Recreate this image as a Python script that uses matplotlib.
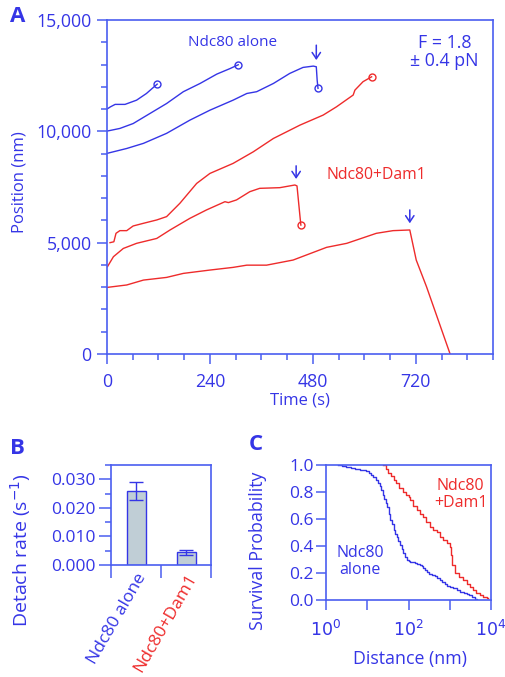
import matplotlib
matplotlib.use("Agg")
import matplotlib.pyplot as plt
from matplotlib.ticker import MultipleLocator, FixedLocator, FixedFormatter, FuncFormatter
import numpy as np

plt.rcParams['font.family'] = ['Open Sans', 'DejaVu Sans']

BLUE = "#3535e6"
RED = "#ee2b2b"
SPINE = "#4a5ef0"
BARFILL = "#c0ced6"

# ---------------- Panel A data ----------------
a1_t = [0, 8, 19, 42, 69, 92, 105, 117]
a1_y = [11000, 11100, 11210, 11210, 11400, 11700, 11920, 12120]

a2_t = [0, 30, 61, 100, 139, 178, 217, 256, 287, 306]
a2_y = [10010, 10130, 10350, 10800, 11250, 11780, 12150, 12570, 12820, 12990]

a3_t = [0, 46, 85, 139, 193, 240, 294, 326, 349, 388, 426, 457, 481, 488, 490, 492]
a3_y = [9010, 9230, 9460, 9910, 10500, 10950, 11400, 11700, 11780, 12150, 12600, 12870, 12930, 12900, 12300, 11930]

r1_t = [7, 16, 21, 30, 46, 61, 85, 116, 139, 170, 209, 240, 294, 341, 388, 450, 504, 535, 574, 578, 597, 617]
r1_y = [5000, 5040, 5420, 5540, 5540, 5750, 5870, 6020, 6170, 6770, 7660, 8110, 8560, 9080, 9680, 10280, 10730, 11100, 11630, 11850, 12230, 12450]

r2_t = [1, 15, 38, 69, 116, 147, 193, 232, 275, 283, 302, 333, 356, 403, 438, 443, 450, 452]
r2_y = [3920, 4370, 4740, 4970, 5190, 5570, 6090, 6470, 6840, 6800, 6920, 7290, 7440, 7470, 7590, 7550, 6170, 5790]

r3_t = [0, 46, 85, 139, 178, 240, 294, 326, 372, 434, 512, 559, 628, 667, 706, 721, 745, 800]
r3_y = [2990, 3100, 3320, 3440, 3620, 3770, 3890, 3990, 3990, 4220, 4790, 4970, 5420, 5540, 5570, 4220, 3020, 0]

# detachment arrows (time, top, bottom)
arrow_t = [488, 441, 706]
arrow_top = [13870, 8450, 6470]
arrow_bot = [13200, 7860, 5870]

# ---------------- Panel B data ----------------
b_labels = ["Ndc80 alone", "Ndc80+Dam1"]
b_values = [0.0258, 0.0044]
b_errors = [0.0031, 0.0010]

# ---------------- Panel C data ----------------
c_blue_d = [2, 2.5, 3, 4, 5, 6.5, 8, 9.5, 11, 12.5, 14, 16, 18, 20, 22, 24, 26, 28, 30, 33, 36,
            40, 44, 48, 52, 57, 62, 68, 74, 82, 90, 100, 110, 125, 140, 165, 190, 210, 230, 255,
            275, 320, 370, 430, 500, 575, 660, 760, 870, 1000, 1230, 1500, 1800, 2200, 2570, 3000,
            3500, 4000, 4470]
c_blue_s = [1.0, 0.99, 0.985, 0.975, 0.97, 0.965, 0.96, 0.955, 0.94, 0.925, 0.91, 0.89, 0.87,
            0.845, 0.815, 0.78, 0.75, 0.72, 0.69, 0.64, 0.59, 0.56, 0.52, 0.49, 0.465, 0.44, 0.41,
            0.38, 0.346, 0.32, 0.30, 0.29, 0.284, 0.278, 0.272, 0.266, 0.26, 0.25, 0.235, 0.22,
            0.21, 0.195, 0.185, 0.175, 0.16, 0.148, 0.135, 0.12, 0.105, 0.095, 0.086, 0.075, 0.062,
            0.052, 0.044, 0.035, 0.02, 0.01, 0.0]

c_red_d = [24, 28, 32, 38, 44, 51, 60, 74, 85, 100, 110, 130, 158, 190, 229, 270, 331, 400, 479, 580, 692, 850, 1000, 1050, 1150, 1350, 1700, 2140, 2600, 3090, 3600, 4300, 5370, 6500, 7940, 8600]
c_red_s = [1.0, 0.97, 0.94, 0.92, 0.89, 0.865, 0.83, 0.80, 0.78, 0.76, 0.74, 0.70, 0.667, 0.64, 0.617, 0.58, 0.543, 0.52, 0.506, 0.47, 0.444, 0.42, 0.395, 0.33, 0.26, 0.198, 0.17, 0.148, 0.12, 0.099, 0.075, 0.05, 0.037, 0.025, 0.017, 0.017]

W, H = 506, 677
fig = plt.figure(figsize=(W / 100, H / 100), dpi=100)


def box(l, t, r, b):
    return [l / W, 1 - b / H, (r - l) / W, (b - t) / H]


def style(ax):
    for s in ax.spines.values():
        s.set_color(SPINE)
        s.set_linewidth(1.2)
    ax.tick_params(which='both', colors=SPINE, labelcolor=BLUE, width=1.1)


# ---------------- Panel A ----------------
axA = fig.add_axes(box(107, 20, 493, 354))
style(axA)
lw = 1.0
axA.plot(a1_t, a1_y, color=BLUE, lw=lw)
axA.plot(a2_t, a2_y, color=BLUE, lw=lw)
axA.plot(a3_t, a3_y, color=BLUE, lw=lw)
axA.plot(r1_t, r1_y, color=RED, lw=lw)
axA.plot(r2_t, r2_y, color=RED, lw=lw)
axA.plot(r3_t, r3_y, color=RED, lw=lw)
for tt, yy, c in [(a1_t, a1_y, BLUE), (a2_t, a2_y, BLUE), (a3_t, a3_y, BLUE),
                  (r1_t, r1_y, RED), (r2_t, r2_y, RED)]:
    axA.plot([tt[-1]], [yy[-1]], 'o', mfc='none', mec=c, ms=5, mew=1.0)
for t, y0, y1 in zip(arrow_t, arrow_top, arrow_bot):
    axA.annotate('', xy=(t, y1), xytext=(t, y0),
                 arrowprops=dict(arrowstyle='->,head_length=0.45,head_width=0.3',
                                 color=BLUE, lw=1.1, shrinkA=0, shrinkB=0))
axA.set_xlim(0, 900)
axA.set_ylim(0, 15000)
axA.xaxis.set_major_locator(FixedLocator([0, 240, 480, 720]))
axA.xaxis.set_minor_locator(MultipleLocator(60))
axA.yaxis.set_major_locator(MultipleLocator(5000))
axA.yaxis.set_minor_locator(MultipleLocator(1000))
axA.yaxis.set_major_formatter(FuncFormatter(lambda v, p: f"{int(v):,}"))
axA.tick_params(which='major', length=7, labelsize=12.8, direction='out')
axA.tick_params(axis='x', which='major', pad=7)
axA.tick_params(axis='y', which='major', pad=4)
axA.tick_params(which='minor', length=4, direction='out')
axA.set_xlabel("Time (s)", color=BLUE, fontsize=12)
axA.xaxis.set_label_coords(0.5, -0.115)
axA.set_ylabel("Position (nm)", color=BLUE, fontsize=12)
axA.yaxis.set_label_coords(-0.205, 0.515)
axA.text(293, 14000, "Ndc80 alone", color=BLUE, fontsize=11, ha='center', va='center')
axA.text(628, 8040, "Ndc80+Dam1", color=RED, fontsize=11.3, ha='center', va='center')
axA.text(787, 13560, "F = 1.8\n\u00b1 0.4 pN", color=BLUE, fontsize=12.8, ha='center',
         va='center', linespacing=1.05)

# ---------------- Panel B ----------------
axB = fig.add_axes(box(111, 465, 211, 565))
style(axB)
xB = np.arange(len(b_values))
axB.bar(xB, b_values, width=0.38, color=BARFILL, edgecolor=BLUE, linewidth=1.0)
axB.errorbar(xB, b_values, yerr=b_errors, fmt='none', ecolor=BLUE, elinewidth=1.0,
             capsize=5, capthick=1.0)
axB.set_xlim(-0.5, 1.5)
axB.set_ylim(0, 0.035)
axB.yaxis.set_major_locator(FixedLocator([0, 0.01, 0.02, 0.03]))
axB.yaxis.set_major_formatter(FuncFormatter(lambda v, p: f"{v:.3f}"))
axB.yaxis.set_minor_locator(MultipleLocator(0.005))
axB.set_xticks(xB)
axB.set_xticklabels(b_labels, rotation=60, ha='right', rotation_mode='anchor')
for lab, c in zip(axB.get_xticklabels(), [BLUE, RED]):
    lab.set_color(c)
axB.xaxis.set_minor_locator(FixedLocator([-0.5, 0.5, 1.5]))
axB.tick_params(axis='x', which='major', length=0, labelsize=12.6, pad=4)
axB.tick_params(axis='x', which='minor', length=9, direction='out')
axB.tick_params(axis='y', which='major', length=9, direction='out', labelsize=12.5, pad=2)
axB.tick_params(axis='y', which='minor', length=4, direction='out')
axB.set_ylabel("Detach rate (s$^{-1}$)", color=BLUE, fontsize=14)
axB.yaxis.set_label_coords(-0.78, 0.15)

# ---------------- Panel C ----------------
axC = fig.add_axes(box(326, 465, 491, 600))
style(axC)
axC.plot(c_blue_d, c_blue_s, color=BLUE, lw=1.0, drawstyle='steps-post')
axC.plot(c_red_d, c_red_s, color=RED, lw=1.0, drawstyle='steps-post')
axC.set_xscale('log')
axC.set_xlim(1, 1e4)
axC.set_ylim(0, 1.0)
axC.xaxis.set_major_locator(FixedLocator([1, 10, 100, 1000, 10000]))
axC.xaxis.set_major_formatter(FixedFormatter(["$10^0$", "", "$10^2$", "", "$10^4$"]))
axC.xaxis.set_minor_locator(FixedLocator([]))
axC.yaxis.set_major_locator(MultipleLocator(0.2))
axC.yaxis.set_major_formatter(FuncFormatter(lambda v, p: f"{v:.1f}"))
axC.tick_params(which='major', length=7, direction='out', labelsize=12.5, pad=2)
axC.tick_params(axis='x', which='major', pad=7)
axC.set_xlabel("Distance (nm)", color=BLUE, fontsize=12.8)
axC.xaxis.set_label_coords(0.51, -0.37)
axC.set_ylabel("Survival Probability", color=BLUE, fontsize=12.8)
axC.yaxis.set_label_coords(-0.36, 0.363)
axC.text(1850, 0.78, "Ndc80\n+Dam1", color=RED, fontsize=11.5, ha='center', va='center',
         linespacing=1.1)
axC.text(6.7, 0.284, "Ndc80\nalone", color=BLUE, fontsize=11.5, ha='center', va='center',
         linespacing=1.1)

# panel letters
fig.text(18 / W, 1 - 17 / H, "A", color=BLUE, fontsize=16, fontweight='bold', ha='center', va='center')
fig.text(17 / W, 1 - 449 / H, "B", color=BLUE, fontsize=16, fontweight='bold', ha='center', va='center')
fig.text(256 / W, 1 - 445 / H, "C", color=BLUE, fontsize=16, fontweight='bold', ha='center', va='center')

fig.savefig("out.png", dpi=100)
